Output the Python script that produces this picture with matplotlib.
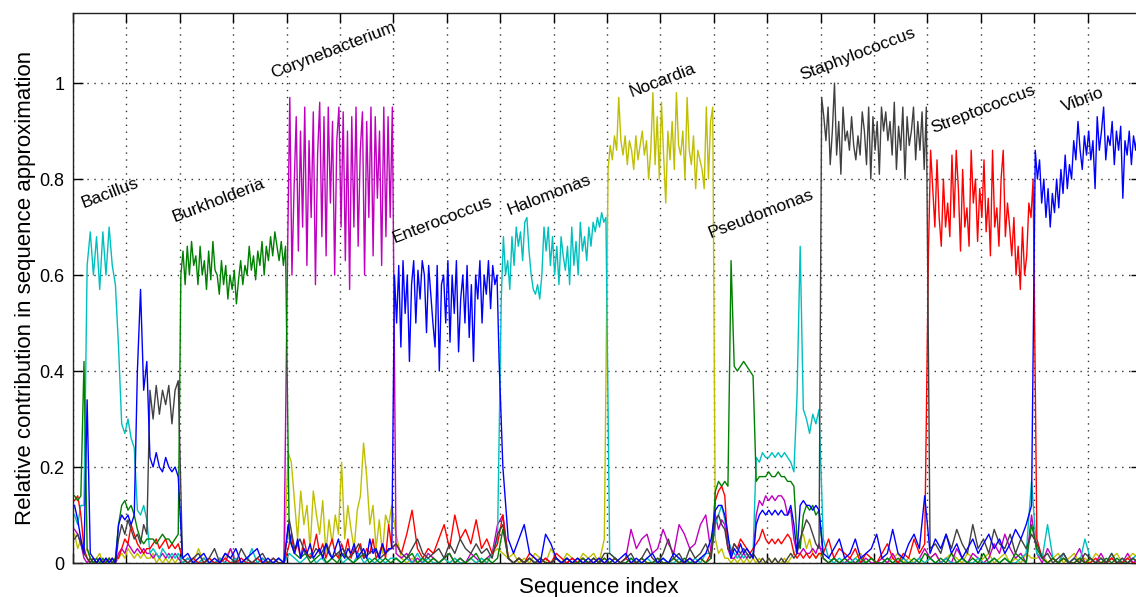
import matplotlib

matplotlib.use("Agg")
import matplotlib.pyplot as plt
import numpy as np

plt.rcParams["font.family"] = ["Liberation Sans", "DejaVu Sans"]

# one segment of 100 sequence indices per genus
genera = ["Bacillus", "Burkholderia", "Corynebacterium", "Enterococcus", "Halomonas",
          "Nocardia", "Pseudomonas", "Staphylococcus", "Streptococcus", "Vibrio"]
label_x = [10, 95, 187, 301, 409, 523, 597, 683, 805, 928]
label_y = [0.74, 0.71, 1.01, 0.667, 0.725, 0.97, 0.677, 1.006, 0.896, 0.94]
seg_len = 100

# relative contribution per dictionary, listed segment by segment
blue_segments = [
    [0.12, 0.09, 0.05, 0.02, 0.34, 0.02, 0.01, 0.0, 0.01, 0.0, 0.01, 0.0, 0.01, 0.0, 0.08, 0.1, 0.09,
     0.1, 0.08, 0.1, 0.4, 0.57, 0.36, 0.42, 0.22, 0.2, 0.23, 0.2, 0.19, 0.22, 0.2, 0.19, 0.2, 0.18],
    [0.01, 0.02, 0.0, 0.01, 0.02, 0.0, 0.01, 0.0, 0.02, 0.01, 0.03, 0.0, 0.01, 0.02, 0.03, 0.0, 0.01, 0.0, 0.01, 0.0],
    [0.08, 0.04, 0.02, 0.05, 0.01, 0.03, 0.02, 0.04, 0.01, 0.02, 0.03, 0.01, 0.04, 0.02, 0.01, 0.03, 0.05,
     0.02, 0.01, 0.03, 0.02, 0.04, 0.01, 0.02, 0.03, 0.01, 0.05, 0.02, 0.03, 0.01, 0.04, 0.02, 0.03, 0.03],
    [0.6, 0.5, 0.62, 0.45, 0.63, 0.52, 0.6, 0.42, 0.58, 0.63, 0.5, 0.61, 0.55, 0.63, 0.6, 0.48, 0.62, 0.56,
     0.5, 0.45, 0.62, 0.4, 0.58, 0.6, 0.5, 0.63, 0.46, 0.6, 0.52, 0.63, 0.44, 0.55, 0.6, 0.5, 0.62, 0.47,
     0.58, 0.42, 0.6, 0.55, 0.63, 0.5, 0.6, 0.56, 0.63, 0.53, 0.62, 0.58, 0.6, 0.42],
    [0.2, 0.05, 0.02, 0.05, 0.08, 0.02, 0.01, 0.0, 0.06, 0.04, 0.01, 0.0, 0.01, 0.0, 0.01, 0.0, 0.01, 0.0, 0.01, 0.0],
    [0.01, 0.0, 0.01, 0.02, 0.0, 0.01, 0.0, 0.01, 0.02, 0.0, 0.01, 0.0, 0.02, 0.01, 0.0, 0.01, 0.0, 0.01, 0.02, 0.05],
    [0.11, 0.12, 0.12, 0.1, 0.06, 0.01, 0.03, 0.02, 0.04, 0.02, 0.03, 0.02, 0.01, 0.08, 0.1, 0.11, 0.1,
     0.11, 0.1, 0.11, 0.1, 0.11, 0.1, 0.1, 0.12, 0.08, 0.02, 0.12, 0.13, 0.12, 0.12, 0.11, 0.12, 0.11],
    [0.02, 0.01, 0.03, 0.05, 0.01, 0.02, 0.05, 0.01, 0.02, 0.03, 0.06, 0.01, 0.02, 0.07, 0.02, 0.01, 0.04, 0.06, 0.03, 0.14],
    [0.02, 0.05, 0.03, 0.06, 0.02, 0.04, 0.01, 0.03, 0.05, 0.02, 0.04, 0.06, 0.03, 0.05, 0.02, 0.04, 0.07, 0.05, 0.08, 0.12],
    [0.86, 0.8, 0.84, 0.75, 0.8, 0.72, 0.78, 0.7, 0.77, 0.73, 0.8, 0.74, 0.82, 0.77, 0.85, 0.78, 0.83, 0.8,
     0.88, 0.84, 0.92, 0.86, 0.82, 0.89, 0.85, 0.9, 0.84, 0.88, 0.78, 0.93, 0.86, 0.9, 0.95, 0.84, 0.89,
     0.87, 0.92, 0.83, 0.9, 0.86, 0.91, 0.76, 0.88, 0.85, 0.9, 0.83, 0.89, 0.86, 0.91, 0.88],
]
green_segments = [
    [0.14, 0.13, 0.14, 0.42, 0.03, 0.01, 0.0, 0.01, 0.0, 0.01, 0.0, 0.01, 0.0, 0.01, 0.08, 0.12, 0.13,
     0.11, 0.12, 0.1, 0.07, 0.05, 0.04, 0.05, 0.05, 0.05, 0.04, 0.05, 0.06, 0.05, 0.05, 0.04, 0.05, 0.06],
    [0.6, 0.65, 0.58, 0.66, 0.6, 0.67, 0.62, 0.64, 0.58, 0.66, 0.6, 0.63, 0.57, 0.65, 0.59, 0.67, 0.61,
     0.6, 0.56, 0.63, 0.58, 0.62, 0.55, 0.6, 0.57, 0.61, 0.54, 0.59, 0.63, 0.58, 0.62, 0.6, 0.66, 0.61,
     0.64, 0.59, 0.65, 0.62, 0.67, 0.6, 0.66, 0.63, 0.68, 0.64, 0.69, 0.66, 0.63, 0.67, 0.62, 0.66],
    [0.05, 0.02, 0.01, 0.02, 0.0, 0.01, 0.02, 0.0, 0.01, 0.0, 0.02, 0.01, 0.0, 0.01, 0.02, 0.0, 0.01, 0.0, 0.01, 0.0],
    [0.01, 0.0, 0.01, 0.02, 0.0, 0.01, 0.0, 0.01, 0.0, 0.01, 0.02, 0.0, 0.01, 0.0, 0.01, 0.02, 0.0, 0.01, 0.0, 0.01],
    [0.07, 0.01, 0.0, 0.01, 0.0, 0.01, 0.0, 0.01, 0.0, 0.0, 0.01, 0.0, 0.01, 0.0, 0.0, 0.01, 0.0, 0.01, 0.0, 0.01],
    [0.0, 0.01, 0.0, 0.0, 0.01, 0.0, 0.01, 0.0, 0.0, 0.01, 0.0, 0.0, 0.01, 0.0, 0.01, 0.0, 0.0, 0.01, 0.0, 0.01],
    [0.15, 0.17, 0.16, 0.17, 0.16, 0.63, 0.41, 0.4, 0.41, 0.42, 0.41, 0.4, 0.39, 0.17, 0.18, 0.18, 0.18,
     0.19, 0.18, 0.18, 0.19, 0.18, 0.18, 0.17, 0.17, 0.16, 0.05, 0.03, 0.1, 0.12, 0.11, 0.12, 0.1, 0.11],
    [0.01, 0.0, 0.01, 0.0, 0.01, 0.0, 0.0, 0.01, 0.0, 0.01, 0.0, 0.0, 0.01, 0.0, 0.01, 0.0, 0.0, 0.01, 0.0, 0.02],
    [0.01, 0.0, 0.01, 0.0, 0.02, 0.0, 0.01, 0.0, 0.01, 0.0, 0.02, 0.0, 0.01, 0.0, 0.01, 0.0, 0.02, 0.01, 0.0, 0.08],
    [0.03, 0.01, 0.0, 0.01, 0.0, 0.01, 0.0, 0.0, 0.01, 0.0, 0.01, 0.0, 0.0, 0.01, 0.0, 0.01, 0.0, 0.0, 0.01, 0.0],
]
red_segments = [
    [0.13, 0.14, 0.1, 0.03, 0.01, 0.0, 0.01, 0.0, 0.01, 0.0, 0.0, 0.01, 0.0, 0.01, 0.01, 0.03, 0.05,
     0.04, 0.08, 0.06, 0.04, 0.03, 0.02, 0.03, 0.03, 0.04, 0.05, 0.03, 0.04, 0.05, 0.03, 0.04, 0.03, 0.04],
    [0.01, 0.0, 0.01, 0.0, 0.0, 0.01, 0.0, 0.0, 0.01, 0.0, 0.0, 0.01, 0.0, 0.0, 0.01, 0.0, 0.0, 0.01, 0.0, 0.0],
    [0.03, 0.06, 0.02, 0.04, 0.01, 0.05, 0.02, 0.01, 0.03, 0.06, 0.02, 0.04, 0.01, 0.03, 0.05, 0.02, 0.01,
     0.04, 0.02, 0.05, 0.01, 0.03, 0.02, 0.04, 0.01, 0.03, 0.02, 0.05, 0.01, 0.02, 0.04, 0.01, 0.08, 0.03],
    [0.04, 0.02, 0.06, 0.11, 0.03, 0.01, 0.03, 0.02, 0.05, 0.08, 0.03, 0.1, 0.05, 0.07, 0.04, 0.09, 0.03, 0.05, 0.02, 0.04],
    [0.1, 0.01, 0.0, 0.01, 0.0, 0.02, 0.01, 0.0, 0.01, 0.0, 0.02, 0.01, 0.0, 0.01, 0.0, 0.01, 0.0, 0.01, 0.0, 0.01],
    [0.0, 0.01, 0.0, 0.01, 0.0, 0.0, 0.01, 0.0, 0.0, 0.01, 0.0, 0.0, 0.01, 0.0, 0.0, 0.01, 0.0, 0.01, 0.0, 0.02],
    [0.13, 0.15, 0.16, 0.14, 0.03, 0.02, 0.04, 0.03, 0.05, 0.04, 0.03, 0.02, 0.03, 0.04, 0.05, 0.07, 0.05,
     0.04, 0.05, 0.04, 0.05, 0.04, 0.05, 0.06, 0.05, 0.02, 0.01, 0.02, 0.01, 0.02, 0.01, 0.02, 0.01, 0.02],
    [0.02, 0.05, 0.01, 0.03, 0.02, 0.01, 0.03, 0.0, 0.02, 0.01, 0.0, 0.02, 0.04, 0.01, 0.0, 0.02, 0.01, 0.05, 0.02, 0.04],
    [0.65, 0.86, 0.78, 0.7, 0.84, 0.72, 0.66, 0.8, 0.7, 0.75, 0.68, 0.85, 0.72, 0.86, 0.78, 0.65, 0.82,
     0.7, 0.74, 0.66, 0.86, 0.75, 0.8, 0.67, 0.78, 0.72, 0.84, 0.69, 0.76, 0.64, 0.86, 0.7, 0.74, 0.66,
     0.8, 0.86, 0.68, 0.75, 0.7, 0.64, 0.72, 0.6, 0.66, 0.57, 0.7, 0.6, 0.64, 0.75, 0.72, 0.8],
    [0.05, 0.01, 0.0, 0.01, 0.0, 0.01, 0.0, 0.0, 0.01, 0.0, 0.0, 0.01, 0.0, 0.0, 0.01, 0.0, 0.0, 0.01, 0.0, 0.0],
]
cyan_segments = [
    [0.1, 0.08, 0.12, 0.12, 0.62, 0.69, 0.6, 0.68, 0.57, 0.69, 0.6, 0.7, 0.62, 0.58, 0.45, 0.29, 0.27,
     0.3, 0.26, 0.24, 0.11, 0.1, 0.12, 0.09, 0.02, 0.03, 0.02, 0.01, 0.03, 0.02, 0.01, 0.02, 0.01, 0.02],
    [0.0, 0.01, 0.0, 0.0, 0.01, 0.0, 0.0, 0.01, 0.0, 0.0, 0.01, 0.0, 0.0, 0.03, 0.0, 0.01, 0.0, 0.0, 0.01, 0.0],
    [0.02, 0.01, 0.0, 0.01, 0.02, 0.0, 0.01, 0.0, 0.01, 0.02, 0.0, 0.01, 0.0, 0.02, 0.0, 0.01, 0.0, 0.01, 0.0, 0.01],
    [0.01, 0.0, 0.01, 0.0, 0.02, 0.0, 0.01, 0.0, 0.0, 0.01, 0.0, 0.01, 0.0, 0.0, 0.01, 0.0, 0.01, 0.0, 0.02, 0.05],
    [0.55, 0.68, 0.6, 0.63, 0.57, 0.68, 0.62, 0.7, 0.66, 0.69, 0.63, 0.71, 0.72, 0.65, 0.6, 0.57, 0.56,
     0.58, 0.55, 0.6, 0.7, 0.65, 0.7, 0.62, 0.68, 0.6, 0.66, 0.58, 0.68, 0.64, 0.61, 0.66, 0.58, 0.7,
     0.62, 0.67, 0.6, 0.71, 0.65, 0.68, 0.63, 0.7, 0.66, 0.71, 0.69, 0.72, 0.7, 0.73, 0.71, 0.72],
    [0.02, 0.01, 0.0, 0.0, 0.01, 0.0, 0.0, 0.01, 0.0, 0.0, 0.01, 0.0, 0.0, 0.01, 0.0, 0.0, 0.01, 0.0, 0.02, 0.02],
    [0.08, 0.1, 0.12, 0.09, 0.05, 0.03, 0.02, 0.01, 0.02, 0.01, 0.02, 0.01, 0.02, 0.22, 0.21, 0.23, 0.22,
     0.22, 0.23, 0.22, 0.23, 0.22, 0.23, 0.22, 0.21, 0.19, 0.35, 0.66, 0.32, 0.3, 0.27, 0.31, 0.29, 0.32],
    [0.05, 0.01, 0.0, 0.01, 0.0, 0.0, 0.01, 0.0, 0.0, 0.01, 0.0, 0.0, 0.01, 0.0, 0.0, 0.01, 0.0, 0.0, 0.01, 0.0],
    [0.01, 0.0, 0.0, 0.01, 0.0, 0.0, 0.01, 0.0, 0.0, 0.01, 0.0, 0.0, 0.01, 0.0, 0.01, 0.0, 0.0, 0.01, 0.02, 0.17],
    [0.02, 0.01, 0.08, 0.01, 0.0, 0.02, 0.0, 0.01, 0.0, 0.05, 0.01, 0.0, 0.01, 0.0, 0.02, 0.0, 0.01, 0.0, 0.01, 0.02],
]
magenta_segments = [
    [0.07, 0.06, 0.04, 0.01, 0.0, 0.01, 0.0, 0.0, 0.01, 0.0, 0.0, 0.01, 0.0, 0.0, 0.02, 0.03, 0.02,
     0.04, 0.03, 0.02, 0.03, 0.02, 0.03, 0.02, 0.02, 0.01, 0.02, 0.01, 0.02, 0.01, 0.02, 0.01, 0.02, 0.01],
    [0.0, 0.01, 0.0, 0.0, 0.01, 0.0, 0.0, 0.01, 0.0, 0.03, 0.0, 0.0, 0.01, 0.0, 0.0, 0.01, 0.0, 0.0, 0.01, 0.0],
    [0.66, 0.97, 0.6, 0.78, 0.93, 0.65, 0.9, 0.7, 0.95, 0.62, 0.88, 0.72, 0.94, 0.58, 0.85, 0.96, 0.68,
     0.93, 0.64, 0.95, 0.75, 0.92, 0.6, 0.88, 0.95, 0.7, 0.94, 0.63, 0.9, 0.57, 0.93, 0.7, 0.95, 0.66,
     0.86, 0.94, 0.6, 0.92, 0.72, 0.95, 0.64, 0.93, 0.76, 0.9, 0.62, 0.95, 0.68, 0.93, 0.72, 0.95],
    [0.02, 0.01, 0.02, 0.0, 0.01, 0.0, 0.02, 0.01, 0.0, 0.01, 0.02, 0.0, 0.01, 0.0, 0.02, 0.01, 0.0, 0.01, 0.02, 0.08],
    [0.1, 0.01, 0.0, 0.01, 0.0, 0.01, 0.0, 0.0, 0.01, 0.0, 0.01, 0.0, 0.0, 0.01, 0.0, 0.01, 0.0, 0.0, 0.01, 0.0],
    [0.0, 0.01, 0.0, 0.01, 0.07, 0.03, 0.05, 0.06, 0.02, 0.03, 0.07, 0.04, 0.02, 0.08, 0.06, 0.03, 0.04, 0.08, 0.1, 0.02],
    [0.1, 0.07, 0.09, 0.08, 0.03, 0.01, 0.01, 0.02, 0.01, 0.02, 0.01, 0.02, 0.01, 0.1, 0.13, 0.12, 0.14,
     0.13, 0.14, 0.13, 0.14, 0.14, 0.13, 0.1, 0.11, 0.05, 0.02, 0.02, 0.03, 0.02, 0.02, 0.03, 0.02, 0.04],
    [0.01, 0.0, 0.01, 0.0, 0.0, 0.01, 0.0, 0.0, 0.01, 0.0, 0.0, 0.01, 0.0, 0.02, 0.0, 0.01, 0.0, 0.0, 0.01, 0.03],
    [0.01, 0.02, 0.0, 0.01, 0.0, 0.03, 0.01, 0.0, 0.02, 0.01, 0.0, 0.01, 0.04, 0.02, 0.06, 0.03, 0.01, 0.02, 0.0, 0.1],
    [0.02, 0.0, 0.03, 0.01, 0.0, 0.02, 0.0, 0.01, 0.03, 0.0, 0.01, 0.0, 0.02, 0.0, 0.01, 0.0, 0.0, 0.02, 0.0, 0.01],
]
yellow_segments = [
    [0.06, 0.03, 0.05, 0.02, 0.03, 0.01, 0.0, 0.01, 0.02, 0.0, 0.01, 0.0, 0.01, 0.0, 0.01, 0.02, 0.01,
     0.03, 0.02, 0.01, 0.02, 0.01, 0.02, 0.01, 0.01, 0.02, 0.0, 0.01, 0.0, 0.01, 0.0, 0.01, 0.0, 0.01],
    [0.0, 0.01, 0.0, 0.03, 0.0, 0.01, 0.0, 0.0, 0.01, 0.03, 0.0, 0.0, 0.01, 0.0, 0.0, 0.01, 0.0, 0.0, 0.01, 0.0],
    [0.23, 0.21, 0.13, 0.05, 0.15, 0.08, 0.12, 0.03, 0.15, 0.1, 0.06, 0.13, 0.02, 0.09, 0.04, 0.1, 0.06,
     0.21, 0.05, 0.12, 0.07, 0.03, 0.11, 0.14, 0.25, 0.18, 0.08, 0.12, 0.03, 0.09, 0.02, 0.1, 0.08, 0.12],
    [0.06, 0.01, 0.0, 0.01, 0.0, 0.01, 0.0, 0.01, 0.0, 0.01, 0.0, 0.01, 0.0, 0.0, 0.01, 0.0, 0.01, 0.0, 0.02, 0.03],
    [0.02, 0.01, 0.02, 0.0, 0.01, 0.0, 0.02, 0.01, 0.0, 0.03, 0.01, 0.0, 0.02, 0.01, 0.0, 0.02, 0.01, 0.02, 0.0, 0.05],
    [0.82, 0.87, 0.84, 0.89, 0.86, 0.97, 0.88, 0.85, 0.89, 0.83, 0.88, 0.86, 0.82, 0.89, 0.84, 0.87, 0.9,
     0.85, 0.88, 0.8, 0.86, 0.98, 0.83, 0.93, 0.8, 0.96, 0.85, 0.75, 0.9, 0.84, 0.92, 0.82, 0.98, 0.87,
     0.85, 0.9, 0.8, 0.97, 0.86, 0.83, 0.89, 0.78, 0.86, 0.84, 0.82, 0.78, 0.95, 0.8, 0.92, 0.95],
    [0.05, 0.02, 0.03, 0.01, 0.01, 0.0, 0.01, 0.0, 0.01, 0.0, 0.01, 0.0, 0.01, 0.0, 0.01, 0.0, 0.0,
     0.01, 0.0, 0.01, 0.0, 0.0, 0.01, 0.0, 0.01, 0.02, 0.03, 0.05, 0.06, 0.03, 0.05, 0.02, 0.01, 0.02],
    [0.01, 0.0, 0.01, 0.0, 0.01, 0.0, 0.01, 0.02, 0.0, 0.01, 0.0, 0.01, 0.0, 0.01, 0.02, 0.0, 0.01, 0.0, 0.01, 0.0],
    [0.01, 0.02, 0.0, 0.01, 0.02, 0.01, 0.0, 0.02, 0.01, 0.0, 0.01, 0.02, 0.0, 0.01, 0.02, 0.0, 0.01, 0.0, 0.02, 0.01],
    [0.01, 0.02, 0.0, 0.01, 0.02, 0.0, 0.01, 0.02, 0.0, 0.01, 0.0, 0.02, 0.01, 0.0, 0.01, 0.02, 0.0, 0.01, 0.02, 0.01],
]
black_segments = [
    [0.05, 0.06, 0.04, 0.02, 0.01, 0.0, 0.01, 0.0, 0.01, 0.0, 0.01, 0.0, 0.01, 0.0, 0.05, 0.08, 0.06,
     0.09, 0.07, 0.05, 0.06, 0.04, 0.08, 0.06, 0.36, 0.3, 0.37, 0.31, 0.36, 0.33, 0.37, 0.29, 0.36, 0.38],
    [0.01, 0.0, 0.01, 0.02, 0.0, 0.01, 0.03, 0.0, 0.02, 0.01, 0.0, 0.03, 0.01, 0.0, 0.01, 0.02, 0.0, 0.01, 0.0, 0.0],
    [0.09, 0.03, 0.05, 0.02, 0.01, 0.03, 0.02, 0.04, 0.01, 0.02, 0.03, 0.01, 0.02, 0.04, 0.01, 0.02, 0.03, 0.01, 0.02, 0.03],
    [0.04, 0.02, 0.01, 0.03, 0.05, 0.02, 0.01, 0.02, 0.03, 0.01, 0.04, 0.02, 0.05, 0.03, 0.02, 0.04, 0.02, 0.03, 0.01, 0.06],
    [0.08, 0.01, 0.0, 0.01, 0.0, 0.01, 0.0, 0.01, 0.0, 0.0, 0.01, 0.0, 0.01, 0.0, 0.01, 0.0, 0.0, 0.01, 0.0, 0.02],
    [0.02, 0.01, 0.0, 0.01, 0.02, 0.0, 0.01, 0.03, 0.01, 0.0, 0.02, 0.05, 0.01, 0.02, 0.0, 0.03, 0.01, 0.02, 0.04, 0.01],
    [0.09, 0.1, 0.08, 0.07, 0.03, 0.02, 0.04, 0.03, 0.02, 0.03, 0.02, 0.01, 0.02, 0.01, 0.0, 0.01, 0.0,
     0.01, 0.0, 0.01, 0.0, 0.01, 0.0, 0.01, 0.02, 0.01, 0.02, 0.05, 0.07, 0.09, 0.08, 0.06, 0.04, 0.03],
    [0.97, 0.93, 0.88, 0.95, 0.83, 0.9, 1.0, 0.85, 0.92, 0.81, 0.95, 0.88, 0.9, 0.86, 0.93, 0.87, 0.84,
     0.89, 0.85, 0.94, 0.9, 0.83, 0.95, 0.8, 0.93, 0.86, 0.92, 0.81, 0.95, 0.9, 0.94, 0.88, 0.92, 0.85,
     0.96, 0.82, 0.91, 0.86, 0.95, 0.8, 0.93, 0.87, 0.9, 0.95, 0.84, 0.92, 0.86, 0.94, 0.82, 0.95],
    [0.03, 0.04, 0.02, 0.06, 0.03, 0.07, 0.04, 0.02, 0.08, 0.03, 0.05, 0.02, 0.07, 0.04, 0.03, 0.06, 0.02, 0.05, 0.03, 0.06],
    [0.04, 0.01, 0.02, 0.0, 0.01, 0.02, 0.0, 0.01, 0.0, 0.02, 0.01, 0.0, 0.01, 0.0, 0.02, 0.0, 0.01, 0.0, 0.01, 0.0],
]


def _series(segments):
    xs, ys = [], []
    for k, vals in enumerate(segments):
        n = len(vals)
        xs.append(seg_len * k + (np.arange(n) + 0.5) * seg_len / n)
        ys.append(np.asarray(vals, dtype=float))
    return np.concatenate(xs), np.concatenate(ys)


# drawing order roughly as it stacks in the original (blue ends on top)
lines = [
    (yellow_segments, (0.75, 0.75, 0.0)),
    (magenta_segments, (0.75, 0.0, 0.75)),
    (cyan_segments, (0.0, 0.75, 0.75)),
    (red_segments, (1.0, 0.0, 0.0)),
    (green_segments, (0.0, 0.5, 0.0)),
    (black_segments, (0.25, 0.25, 0.25)),
    (blue_segments, (0.0, 0.0, 1.0)),
]

fig = plt.figure(figsize=(11.36, 5.97), dpi=100)
ax = fig.add_axes([73 / 1136, 34 / 597, 1068 / 1136, 550 / 597])

for segs, col in lines:
    x, y = _series(segs)
    ax.plot(x, y, color=col, lw=1.0)

for name, lx, ly in zip(genera, label_x, label_y):
    ax.text(lx, ly, name, rotation=21, rotation_mode="anchor", ha="left", va="baseline", fontsize=12.5)

ax.set_xlim(0, seg_len * len(genera))
ax.set_ylim(0, 1.146)
ax.set_xticks(np.arange(0, 1001, 50))
ax.set_xticklabels([])
ax.set_yticks([0, 0.2, 0.4, 0.6, 0.8, 1.0])
ax.set_yticklabels(["0", "0.2", "0.4", "0.6", "0.8", "1"], fontsize=13)
ax.tick_params(which="both", direction="in", top=True, right=True, length=7.5, width=1, pad=6)
ax.grid(True, color="#333333", linestyle=(0, (1, 4)), lw=1.0)
for sp in ax.spines.values():
    sp.set_linewidth(1.0)
    sp.set_color("#222222")

ax.set_ylabel("Relative contribution in sequence approximation", fontsize=16)
ax.yaxis.set_label_coords(-0.035, 0.5)
ax.set_xlabel("Sequence index", fontsize=16)
ax.xaxis.set_label_coords(0.4925, -0.025)

fig.savefig("out.png", dpi=100)
